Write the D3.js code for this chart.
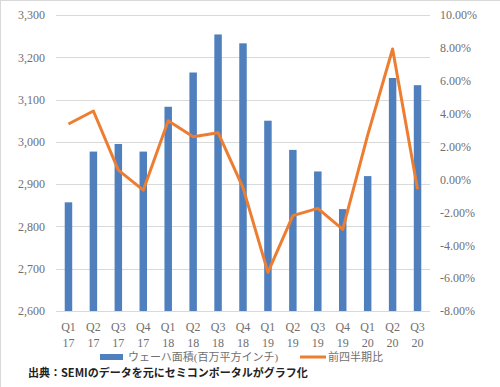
<!DOCTYPE html>
<html>
<head>
<meta charset="utf-8">
<script src="https://cdn.jsdelivr.net/npm/d3@7"></script>
<style>
  body { margin: 0; background: #fff; }
  svg { display: block; }
  .tick text { font-family: "Liberation Serif", "Noto Sans CJK JP", serif; font-size: 12px; fill: #6f6f6f; }
</style>
</head>
<body>
<svg id="chart" width="500" height="387"></svg>
<script>
// chart data
var quarters = ["Q1","Q2","Q3","Q4","Q1","Q2","Q3","Q4","Q1","Q2","Q3","Q4","Q1","Q2","Q3"];
var years    = ["17","17","17","17","18","18","18","18","19","19","19","19","20","20","20"];
var waferArea = [2857, 2977, 2995, 2977, 3083, 3164, 3254, 3233, 3050, 2981, 2930, 2841, 2919, 3151, 3134];
var qoqChange = [3.37, 4.16, 0.57, -0.65, 3.57, 2.6, 2.84, -0.5, -5.65, -2.2, -1.76, -3.04, 2.7, 7.93, -0.6];
var leftTicks = [2600, 2700, 2800, 2900, 3000, 3100, 3200, 3300];
var rightTicks = [-8, -6, -4, -2, 0, 2, 4, 6, 8, 10];
var legendLabels = ["ウェーハ面積(百万平方インチ)", "前四半期比"];
var caption = "出典：SEMIのデータを元にセミコンポータルがグラフ化";

var svg = d3.select('#chart');
var plot = { left: 56, right: 430, top: 15, bottom: 311 };
var barColor = '#4f7fbd';
var lineColor = '#ed7d31';

// frame (only top/left edges visible in the reference)
svg.append('line').attr('x1', 0).attr('x2', 500).attr('y1', 0.5).attr('y2', 0.5)
   .attr('stroke', '#d9d9d9');
svg.append('line').attr('x1', 0.5).attr('x2', 0.5).attr('y1', 0).attr('y2', 387)
   .attr('stroke', '#d9d9d9');

var idx = d3.range(waferArea.length);

var x = d3.scaleBand()
  .domain(idx)
  .range([plot.left, plot.right])
  .paddingInner(0.7)
  .paddingOuter(0.35);

var y = d3.scaleLinear()
  .domain([2600, 3300])
  .range([plot.bottom, plot.top]);

var y2 = d3.scaleLinear()
  .domain([-8, 10])
  .range([plot.bottom, plot.top]);

// gridlines
svg.append('g')
  .selectAll('line')
  .data(leftTicks)
  .enter()
  .append('line')
  .attr('x1', plot.left)
  .attr('x2', plot.right)
  .attr('y1', d => Math.round(y(d)) + 0.5)
  .attr('y2', d => Math.round(y(d)) + 0.5)
  .attr('stroke', '#d9d9d9')
  .attr('stroke-width', 1);

// bars
svg.append('g')
  .selectAll('rect')
  .data(waferArea)
  .enter()
  .append('rect')
  .attr('x', (d, i) => x(i))
  .attr('y', d => y(d))
  .attr('width', x.bandwidth())
  .attr('height', d => y(2600) - y(d))
  .attr('fill', barColor);

// line
var valueline = d3.line()
  .x((d, i) => x(i) + x.bandwidth() / 2)
  .y(d => y2(d));

svg.append('path')
  .datum(qoqChange)
  .attr('d', valueline)
  .attr('fill', 'none')
  .attr('stroke', lineColor)
  .attr('stroke-width', 3)
  .attr('stroke-linejoin', 'round');

// left axis
svg.append('g')
  .attr('transform', `translate(${plot.left},0)`)
  .call(d3.axisLeft(y).tickValues(leftTicks).tickSize(0).tickPadding(11)
        .tickFormat(d3.format(',')))
  .call(g => g.select('.domain').remove());

// right axis
svg.append('g')
  .attr('transform', `translate(${plot.right},0)`)
  .call(d3.axisRight(y2).tickValues(rightTicks).tickSize(0).tickPadding(10)
        .tickFormat(d => d.toFixed(2) + '%'))
  .call(g => g.select('.domain').remove());

// bottom axis, two-line labels
var xAxis = svg.append('g')
  .attr('transform', `translate(0,${plot.bottom})`)
  .call(d3.axisBottom(x).tickSize(0).tickPadding(10).tickFormat(''))
  .call(g => g.select('.domain').remove());

xAxis.selectAll('.tick text')
  .attr('dy', null)
  .each(function(d) {
    var t = d3.select(this);
    t.append('tspan').attr('x', 0).attr('y', 20).text(quarters[d]);
    t.append('tspan').attr('x', 0).attr('y', 36).text(years[d]);
  });

// legend
var legend = svg.append('g')
  .style('font-family', '"Liberation Serif", "Noto Sans CJK JP", serif')
  .style('font-size', '11px')
  .attr('fill', '#6f6f6f');

legend.append('rect')
  .attr('x', 100).attr('y', 354)
  .attr('width', 23).attr('height', 6)
  .attr('fill', barColor);
legend.append('text')
  .attr('x', 128).attr('y', 361)
  .text(legendLabels[0]);

legend.append('line')
  .attr('x1', 300).attr('x2', 326)
  .attr('y1', 357).attr('y2', 357)
  .attr('stroke', lineColor)
  .attr('stroke-width', 3);
legend.append('text')
  .attr('x', 328).attr('y', 361)
  .text(legendLabels[1]);

// caption
svg.append('text')
  .attr('x', 28).attr('y', 377)
  .style('font-family', '"Noto Sans CJK JP", sans-serif')
  .style('font-size', '11px')
  .style('font-weight', 'bold')
  .attr('fill', '#222')
  .text(caption);
</script>
</body>
</html>
